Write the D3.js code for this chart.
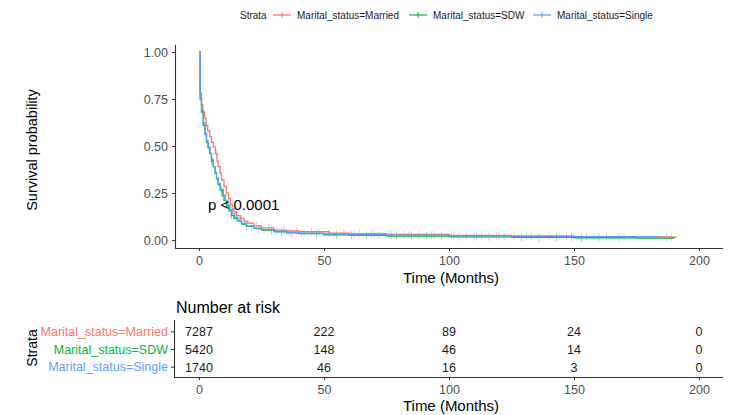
<!DOCTYPE html>
<html>
<head>
<meta charset="utf-8">
<script src="https://cdn.jsdelivr.net/npm/d3@7"></script>
<style>
  body { margin: 0; background: #fff; }
  svg { font-family: "Liberation Sans", Arial, sans-serif; }
</style>
</head>
<body>
<svg id="chart" width="731" height="415"></svg>
<script>
"use strict";

// strata
var strata = ["Marital_status=Married", "Marital_status=SDW", "Marital_status=Single"];
var colors = ["#F8766D", "#00BA38", "#619CFF"];

// survival curves (time in months, survival probability)
var marriedTime = [0, 0.4, 1, 1.5, 2.2, 2.8, 3.5, 4.3, 5, 5.7, 6.5, 7.2, 7.7, 8.4, 9, 10, 11, 11.8, 12.5, 13.3, 14, 15, 16.5, 18, 19.5, 22, 25, 30, 35, 40, 52, 60, 75, 100, 125, 150, 175, 191];
var marriedSurv = [1.0, 0.78, 0.72, 0.68, 0.65, 0.61, 0.58, 0.55, 0.52, 0.495, 0.46, 0.42, 0.39, 0.355, 0.32, 0.285, 0.25, 0.22, 0.19, 0.165, 0.15, 0.13, 0.115, 0.1, 0.09, 0.075, 0.065, 0.053, 0.048, 0.044, 0.037, 0.034, 0.03, 0.025, 0.021, 0.018, 0.016, 0.016];
var sdwTime = [0, 0.5, 1, 1.7, 2.4, 3, 3.6, 4.3, 5, 5.7, 6.4, 7, 7.7, 8.5, 9.3, 10, 11, 12, 13, 14, 15.5, 17, 19, 22, 25, 30, 35, 40, 50, 60, 75, 100, 125, 150, 175, 190];
var sdwSurv = [1.0, 0.75, 0.68, 0.61, 0.56, 0.52, 0.49, 0.46, 0.42, 0.39, 0.355, 0.325, 0.295, 0.265, 0.235, 0.21, 0.18, 0.155, 0.13, 0.115, 0.1, 0.085, 0.072, 0.06, 0.052, 0.044, 0.038, 0.034, 0.028, 0.025, 0.021, 0.017, 0.014, 0.012, 0.01, 0.01];
var singleTime = [0, 0.5, 1, 1.7, 2.4, 3, 3.6, 4.4, 5, 5.7, 6.5, 7, 7.7, 8.5, 9.7, 10.5, 11.5, 12.4, 13.3, 14.3, 15.5, 17, 19, 22, 25, 30, 35, 40, 50, 60, 75, 100, 125, 150, 175, 185];
var singleSurv = [1.0, 0.745, 0.69, 0.62, 0.57, 0.53, 0.495, 0.46, 0.43, 0.39, 0.36, 0.33, 0.30, 0.27, 0.24, 0.21, 0.185, 0.16, 0.14, 0.12, 0.105, 0.09, 0.075, 0.063, 0.055, 0.047, 0.041, 0.037, 0.032, 0.029, 0.026, 0.022, 0.02, 0.018, 0.016, 0.016];

// censoring times
var marriedCens = [3, 7, 11, 17, 23, 28, 34, 39, 45, 52, 58, 64, 70, 76, 82, 88, 94, 101, 107, 113, 119, 126, 133, 140, 147, 155, 163, 170, 187, 189];
var sdwCens = [2, 5, 9, 13, 19, 24, 29, 33, 37, 42, 47, 55, 61, 67, 72, 79, 85, 91, 97, 104, 110, 116, 122, 129, 136, 143, 149, 153, 160, 168];
var singleCens = [4, 8, 15, 21, 26, 31, 36, 41, 48, 54, 62, 69, 77, 84, 93, 102, 111, 120, 131, 144, 158];

// risk table
var riskTimes = [0, 50, 100, 150, 200];
var riskMarried = [7287, 222, 89, 24, 0];
var riskSdw = [5420, 148, 46, 14, 0];
var riskSingle = [1740, 46, 16, 3, 0];

var xTicks = [0, 50, 100, 150, 200];
var yTicks = [0, 0.25, 0.5, 0.75, 1];

var series = [
  {name: strata[0], time: marriedTime, surv: marriedSurv, cens: marriedCens, risk: riskMarried},
  {name: strata[1], time: sdwTime, surv: sdwSurv, cens: sdwCens, risk: riskSdw},
  {name: strata[2], time: singleTime, surv: singleSurv, cens: singleCens, risk: riskSingle}
];

var svg = d3.select("#chart");
var axisColor = "#333", tickTextColor = "#4d4d4d";

var x = d3.scaleLinear().domain([0, 200]).range([199, 699]);
var y = d3.scaleLinear().domain([0, 1]).range([240, 52]);

// ---- legend ----
var legend = svg.append("g").attr("font-size", 10).attr("fill", "#1a1a1a");
legend.append("text").attr("x", 240).attr("y", 19).text("Strata");
var keyX = [273, 409, 533];
series.forEach(function(s, i) {
  var g = legend.append("g").attr("transform", "translate(" + keyX[i] + ",15)");
  g.append("line").attr("x1", 0).attr("x2", 18).attr("stroke", colors[i]).attr("stroke-width", 1.2);
  g.append("line").attr("x1", 9).attr("x2", 9).attr("y1", -3).attr("y2", 3).attr("stroke", colors[i]).attr("stroke-width", 1);
  g.append("text").attr("x", 24).attr("y", 4).text(s.name);
});

// ---- main plot ----
var plot = svg.append("g");

function survAt(s, t) {
  var v = s.surv[0];
  for (var k = 0; k < s.time.length; k++) { if (s.time[k] <= t) v = s.surv[k]; }
  return v;
}

var line = d3.line()
  .x(function(d) { return x(d[0]); })
  .y(function(d) { return y(d[1]); })
  .curve(d3.curveStepAfter);

// censor marks
series.forEach(function(s, i) {
  plot.append("g").selectAll("line")
    .data(s.cens)
    .enter().append("line")
    .attr("x1", function(d) { return x(d); })
    .attr("x2", function(d) { return x(d); })
    .attr("y1", function(d) { return y(survAt(s, d)) - 4; })
    .attr("y2", function(d) { return y(survAt(s, d)) + 4; })
    .attr("stroke", colors[i])
    .attr("stroke-opacity", 0.4)
    .attr("stroke-width", 1);
});

// step curves, blue drawn last as in picture
[0, 1, 2].forEach(function(i) {
  var s = series[i];
  plot.append("path")
    .datum(d3.zip(s.time, s.surv))
    .attr("fill", "none")
    .attr("stroke", colors[i])
    .attr("stroke-width", 1.3)
    .attr("d", line);
});

// axes
var xAxis = d3.axisBottom(x).tickValues(xTicks).tickSize(3).tickPadding(5).tickSizeOuter(0);
var yAxis = d3.axisLeft(y).tickValues(yTicks).tickFormat(d3.format(".2f")).tickSize(3).tickPadding(4).tickSizeOuter(0);

function styleAxis(g) {
  g.select(".domain").attr("stroke", axisColor).attr("stroke-width", 1.1);
  g.selectAll(".tick line").attr("stroke", axisColor);
  g.selectAll(".tick text").attr("fill", tickTextColor).attr("font-size", 12.5).attr("font-family", "Liberation Sans, Arial, sans-serif");
}

var gx = plot.append("g").attr("transform", "translate(0,248)").call(xAxis);
gx.select(".domain").attr("d", "M175,0.5H723");
styleAxis(gx);

var gy = plot.append("g").attr("transform", "translate(175,0)").call(yAxis);
gy.select(".domain").attr("d", "M0.5,45V248");
styleAxis(gy);

plot.append("text").attr("x", 451).attr("y", 283).attr("text-anchor", "middle")
  .attr("font-size", 15).attr("fill", "#000").text("Time (Months)");
plot.append("text").attr("transform", "translate(37,150) rotate(-90)").attr("text-anchor", "middle")
  .attr("font-size", 14.5).attr("fill", "#000").text("Survival probability");

plot.append("text").attr("x", 208).attr("y", 210).attr("font-size", 15).attr("fill", "#000").text("p < 0.0001");

// ---- risk table ----
var table = svg.append("g");
table.append("text").attr("x", 176).attr("y", 313).attr("font-size", 16).attr("fill", "#000").text("Number at risk");

var yr = d3.scaleBand().domain(strata).range([323, 376]).padding(0);

series.forEach(function(s, i) {
  table.append("g").selectAll("text")
    .data(d3.zip(riskTimes, s.risk))
    .enter().append("text")
    .attr("x", function(d) { return x(d[0]); })
    .attr("y", yr(s.name) + yr.bandwidth() / 2 + 4.5)
    .attr("text-anchor", "middle")
    .attr("font-size", 12.5)
    .attr("fill", "#1a1a1a")
    .text(function(d) { return d[1]; });
});

var gry = table.append("g").attr("transform", "translate(174,0)")
  .call(d3.axisLeft(yr).tickSize(3).tickPadding(3).tickSizeOuter(0));
gry.select(".domain").attr("d", "M0.5,320V377").attr("stroke", axisColor).attr("stroke-width", 1.1);
gry.selectAll(".tick line").attr("stroke", axisColor);
gry.selectAll(".tick text")
  .attr("font-size", 12.5)
  .attr("font-family", "Liberation Sans, Arial, sans-serif")
  .attr("fill", function(d, i) { return colors[i]; });

var grx = table.append("g").attr("transform", "translate(0,377)")
  .call(d3.axisBottom(x).tickValues(xTicks).tickSize(3).tickPadding(5).tickSizeOuter(0));
grx.select(".domain").attr("d", "M174,0.5H723");
styleAxis(grx);

table.append("text").attr("x", 451).attr("y", 411).attr("text-anchor", "middle")
  .attr("font-size", 15).attr("fill", "#000").text("Time (Months)");
table.append("text").attr("transform", "translate(37,348) rotate(-90)").attr("text-anchor", "middle")
  .attr("font-size", 14).attr("fill", "#000").text("Strata");
</script>
</body>
</html>
